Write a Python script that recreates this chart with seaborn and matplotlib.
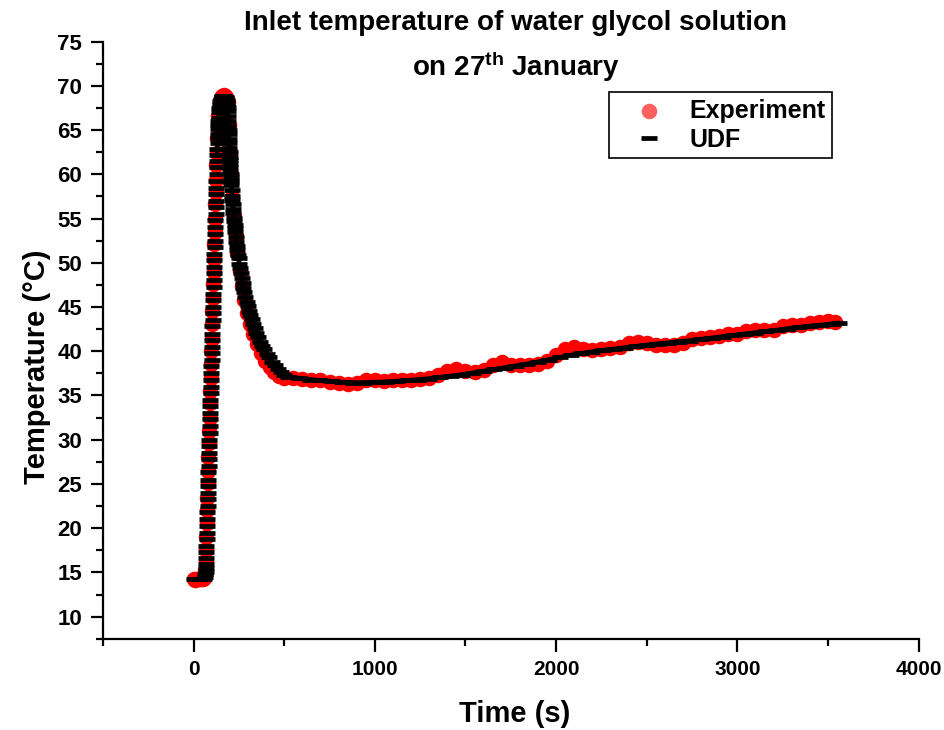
import matplotlib
matplotlib.use("Agg")
import matplotlib.pyplot as plt
from matplotlib.ticker import MultipleLocator, FixedLocator
import pandas as pd
import seaborn as sns

# ---------------- data ----------------
# Experiment (red dots)
exp_time_rise = [0, 10, 20, 30, 40, 50, 58, 62, 64, 66, 68, 70, 72, 74, 76, 78, 80,
                 82, 84, 86, 88, 90, 92, 94, 96, 98, 100, 102, 104, 106, 108, 110,
                 112, 114, 116, 118, 120, 122, 124, 126, 128, 131, 134, 137, 141,
                 146, 152, 158, 165, 172, 180, 187]
exp_temp_rise = [14.2, 14.1, 14.2, 14.2, 14.3, 14.3, 14.4, 14.6, 15.3, 16.2, 17.5,
                 19.0, 20.6, 22.0, 23.4, 25.1, 26.5, 28.0, 29.6, 31.0, 32.4, 34.1,
                 35.5, 37.0, 38.6, 40.0, 41.4, 43.1, 44.5, 46.0, 47.6, 49.0, 50.4,
                 52.1, 53.5, 55.0, 56.6, 58.0, 59.4, 61.0, 62.4, 64.1, 65.6, 66.6,
                 67.5, 68.2, 68.6, 68.8, 69.0, 68.9, 68.7, 68.2]
exp_time_decay = [194, 200, 206, 214, 222, 232, 242, 254, 266, 280, 295, 310, 328,
                  348, 370, 395, 420, 445, 470]
exp_temp_decay = [65.6, 62.5, 60.0, 57.4, 55.3, 53.0, 51.1, 49.1, 47.4, 45.8, 44.3,
                  43.1, 41.9, 40.8, 39.8, 38.9, 38.2, 37.6, 37.2]
exp_time_tail = [500, 550, 600, 650, 700, 750, 800, 850, 900, 950, 1000, 1050, 1100,
                 1150, 1200, 1250, 1300, 1350, 1400, 1450, 1500, 1550, 1600, 1650,
                 1700, 1750, 1800, 1850, 1900, 1950, 2000, 2050, 2100, 2150, 2200,
                 2250, 2300, 2350, 2400, 2450, 2500, 2550, 2600, 2650, 2700, 2750,
                 2800, 2850, 2900, 2950, 3000, 3050, 3100, 3150, 3200, 3250, 3300,
                 3350, 3400, 3450, 3500, 3540]
exp_temp_tail = [37.0, 36.95, 36.85, 36.8, 36.7, 36.5, 36.4, 36.35, 36.4, 36.7, 36.8,
                 36.6, 36.7, 36.75, 36.8, 36.85, 36.95, 37.3, 37.8, 37.95, 37.8, 37.6,
                 37.9, 38.5, 38.75, 38.5, 38.4, 38.45, 38.6, 38.9, 39.6, 40.2, 40.45,
                 40.2, 40.1, 40.25, 40.35, 40.5, 40.9, 41.05, 40.9, 40.75, 40.7, 40.75,
                 40.95, 41.35, 41.5, 41.6, 41.75, 41.9, 41.95, 42.25, 42.4, 42.35,
                 42.45, 42.9, 43.0, 42.95, 43.2, 43.35, 43.4, 43.3]

# UDF (black dashes)
udf_time_rise = [0, 30, 58, 62, 65, 66, 67, 68, 69, 70, 71, 72, 73, 74, 75, 76, 77,
                 78, 79, 80, 81, 82, 83, 84, 85, 86, 87, 88, 89, 90, 91, 92, 93, 94,
                 95, 96, 97, 98, 99, 100, 101, 102, 103, 104, 105, 106, 107, 108, 109,
                 110, 111, 112, 113, 114, 115, 116, 117, 118, 119, 120, 121, 122, 123,
                 124, 125, 126, 127, 128, 129]
udf_temp_rise = [14.2, 14.2, 14.3, 14.5, 14.8, 15.1, 15.5, 16.0, 16.6, 17.3, 18.0,
                 18.8, 19.5, 20.3, 21.0, 21.8, 22.5, 23.3, 24.0, 24.8, 25.5, 26.3,
                 27.0, 27.8, 28.5, 29.3, 30.0, 30.8, 31.5, 32.3, 33.0, 33.8, 34.5,
                 35.3, 36.0, 36.8, 37.5, 38.3, 39.0, 39.8, 40.5, 41.3, 42.0, 42.8,
                 43.5, 44.3, 45.0, 45.8, 46.5, 47.3, 48.0, 48.8, 49.5, 50.3, 51.0,
                 51.8, 52.5, 53.3, 54.0, 54.8, 55.5, 56.3, 57.0, 57.8, 58.5, 59.3,
                 60.0, 60.8, 61.5]
udf_time_peak = [130, 131, 132, 133, 134, 135, 136, 137, 138, 140, 142, 144, 147, 150,
                 154, 158, 164, 170, 176, 181, 184, 186, 188, 189, 190, 191, 192, 193,
                 194, 195, 196, 197, 198, 199, 200, 201, 202, 203, 204, 205, 206, 207,
                 208, 210, 212, 214, 216, 218, 220, 222, 224, 226, 228, 230, 233, 236,
                 239, 242, 245, 248, 252, 256, 260, 265, 270, 275, 280, 286, 292, 298,
                 305, 312, 320, 328, 337, 346, 356, 367, 378, 390, 403, 417, 432, 448,
                 465, 483, 500]
udf_temp_peak = [62.2, 62.9, 63.5, 64.1, 64.6, 65.1, 65.6, 66.0, 66.4, 67.0, 67.5,
                 67.9, 68.3, 68.5, 68.7, 68.8, 68.8, 68.8, 68.7, 68.6, 68.4, 68.1,
                 67.6, 67.1, 66.6, 66.0, 65.5, 65.0, 64.5, 64.0, 63.5, 63.0, 62.5,
                 62.0, 61.6, 61.2, 60.8, 60.4, 60.0, 59.7, 59.4, 59.1, 58.8, 58.2,
                 57.6, 57.1, 56.6, 56.1, 55.6, 55.1, 54.7, 54.3, 53.9, 53.5, 52.9,
                 52.4, 51.9, 51.4, 50.9, 50.5, 49.9, 49.4, 48.9, 48.3, 47.7, 47.2,
                 46.7, 46.1, 45.6, 45.1, 44.6, 44.1, 43.6, 43.1, 42.6, 42.1, 41.6,
                 41.1, 40.6, 40.2, 39.7, 39.3, 38.8, 38.4, 38.0, 37.6, 37.3]
udf_time_tail = [520, 580, 640, 700, 760, 820, 880, 940, 1000, 1060, 1120, 1180, 1240,
                 1300, 1360, 1420, 1480, 1540, 1600, 1660, 1720, 1780, 1840, 1900,
                 1960, 2020, 2080, 2140, 2200, 2260, 2320, 2380, 2440, 2500, 2560,
                 2620, 2680, 2740, 2800, 2860, 2920, 2980, 3040, 3100, 3160, 3220,
                 3280, 3340, 3400, 3460, 3520, 3560]
udf_temp_tail = [37.1, 36.95, 36.8, 36.7, 36.6, 36.5, 36.45, 36.45, 36.5, 36.55, 36.6,
                 36.7, 36.8, 36.9, 37.05, 37.2, 37.35, 37.55, 37.75, 37.95, 38.15,
                 38.35, 38.55, 38.8, 39.05, 39.3, 39.55, 39.75, 39.95, 40.1, 40.25,
                 40.4, 40.55, 40.7, 40.85, 40.95, 41.1, 41.2, 41.35, 41.5, 41.65, 41.8,
                 41.95, 42.1, 42.25, 42.4, 42.55, 42.7, 42.85, 42.95, 43.1, 43.2]

x_major_ticks = [0, 1000, 2000, 3000, 4000]
y_major_ticks = [10, 15, 20, 25, 30, 35, 40, 45, 50, 55, 60, 65, 70, 75]

title_line1 = "Inlet temperature of water glycol solution"
title_line2 = r"on 27$^{\mathbf{th}}$ January"
x_label = "Time (s)"
y_label = "Temperature (°C)"
legend_labels = ["Experiment", "UDF"]

# ---------------- build tables ----------------
exp_df = pd.DataFrame({
    "Time": exp_time_rise + exp_time_decay + exp_time_tail,
    "Temperature": exp_temp_rise + exp_temp_decay + exp_temp_tail,
})
udf_df = pd.DataFrame({
    "Time": udf_time_rise + udf_time_peak + udf_time_tail,
    "Temperature": udf_temp_rise + udf_temp_peak + udf_temp_tail,
})
udf_smooth_df = pd.DataFrame({
    "Time": udf_time_peak + udf_time_tail,
    "Temperature": udf_temp_peak + udf_temp_tail,
})

# ---------------- style ----------------
sns.set_theme(style="ticks")
plt.rcParams["font.family"] = ["Liberation Sans", "DejaVu Sans"]
plt.rcParams["font.weight"] = "bold"
plt.rcParams["text.color"] = "black"
plt.rcParams["axes.labelcolor"] = "black"
plt.rcParams["xtick.color"] = "black"
plt.rcParams["ytick.color"] = "black"
plt.rcParams["mathtext.fontset"] = "custom"
plt.rcParams["mathtext.bf"] = "Liberation Sans:bold"
plt.rcParams["mathtext.rm"] = "Liberation Sans:bold"
plt.rcParams["mathtext.it"] = "Liberation Sans:bold"

fig = plt.figure(figsize=(9.45, 7.3), dpi=100)
ax = fig.add_axes([0.109, 0.125, 0.863, 0.818])

sns.scatterplot(data=exp_df, x="Time", y="Temperature", ax=ax, color="#FF0000",
                alpha=1.0, s=125, linewidth=0, label=legend_labels[0], zorder=2)
sns.lineplot(data=udf_smooth_df, x="Time", y="Temperature", ax=ax, color="black",
             linewidth=3.4, estimator=None, sort=False, zorder=3)
sns.lineplot(data=udf_df, x="Time", y="Temperature", ax=ax, color="black",
             marker="_", linestyle="none", markersize=11.5, markeredgewidth=3.4,
             markeredgecolor="black", estimator=None, sort=False,
             label=legend_labels[1], zorder=4)

ax.set_xlim(-500, 4000)
ax.set_ylim(7.5, 75)
ax.xaxis.set_major_locator(FixedLocator(x_major_ticks))
ax.xaxis.set_minor_locator(MultipleLocator(500))
ax.yaxis.set_major_locator(FixedLocator(y_major_ticks))
ax.yaxis.set_minor_locator(MultipleLocator(2.5))

for side in ["top", "right"]:
    ax.spines[side].set_visible(False)
for side in ["left", "bottom"]:
    ax.spines[side].set_linewidth(1.6)
    ax.spines[side].set_color("black")

ax.tick_params(which="major", direction="out", length=9, width=1.6, labelsize=16,
               pad=6, color="black", labelcolor="black")
ax.tick_params(axis="x", which="major", labelsize=15)
ax.tick_params(which="minor", direction="out", length=5, width=1.6, color="black")
for lab in ax.get_xticklabels() + ax.get_yticklabels():
    lab.set_fontweight("bold")

ax.set_xlabel(x_label, fontsize=21, fontweight="bold", color="black")
ax.set_ylabel(y_label, fontsize=21, fontweight="bold", color="black")
ax.xaxis.set_label_coords(0.505, -0.103)
ax.yaxis.set_label_coords(-0.064, 0.455)

fig.text(0.546, 1 - 30 / 730, title_line1, ha="center", va="baseline",
         fontsize=20, fontweight="bold", color="black")
fig.text(0.546, 1 - 76 / 730, title_line2, ha="center", va="baseline",
         fontsize=20, fontweight="bold", color="black")

leg = ax.legend(loc="upper left", bbox_to_anchor=(0.621, 0.915), borderaxespad=0,
                frameon=True, fancybox=False, edgecolor="black",
                borderpad=0.25, labelspacing=0.2, handlelength=2.7,
                handletextpad=0.25, prop={"weight": "bold", "size": 18})
leg.get_frame().set_linewidth(1.2)
leg.get_frame().set_alpha(1)
for txt in leg.get_texts():
    txt.set_color("black")
leg.legend_handles[0].set_alpha(0.62)

fig.savefig("out.png", dpi=100)
